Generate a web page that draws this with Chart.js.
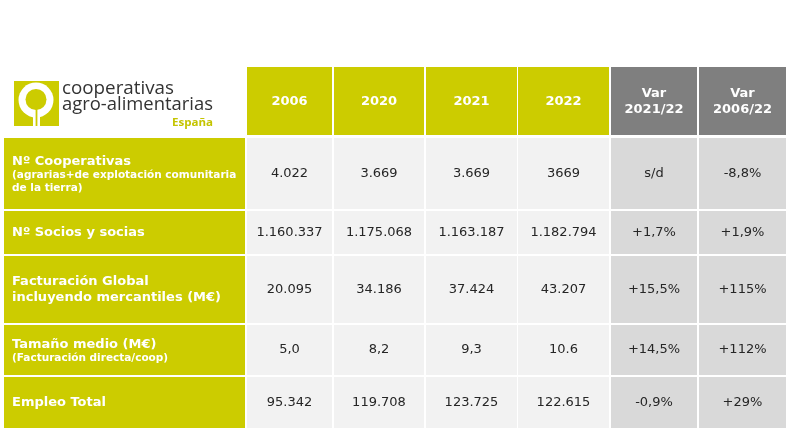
<!DOCTYPE html>
<html>
<head>
<meta charset="utf-8">
<script src="https://cdn.jsdelivr.net/npm/chart.js@4.4.0/dist/chart.umd.min.js"></script>
<style>
  html, body { margin: 0; padding: 0; background: #fff; }
  #wrap { width: 792px; height: 446px; }
</style>
</head>
<body>
<div id="wrap"><canvas id="tabla"></canvas></div>
<script>
// datos
const years = ['2006', '2020', '2021', '2022'];
const varHeads = ['Var\n2021/22', 'Var\n2006/22'];
const rowLabels = ['Nº Cooperativas', 'Nº Socios y socias', 'Facturación Global\nincluyendo mercantiles (M€)', 'Tamaño medio (M€)', 'Empleo Total'];
const rowNotes = ['(agrarias+de explotación comunitaria\nde la tierra)', '', '', '(Facturación directa/coop)', ''];
const val2006 = ['4.022', '1.160.337', '20.095', '5,0', '95.342'];
const val2020 = ['3.669', '1.175.068', '34.186', '8,2', '119.708'];
const val2021 = ['3.669', '1.163.187', '37.424', '9,3', '123.725'];
const val2022 = ['3669', '1.182.794', '43.207', '10.6', '122.615'];
const var2122 = ['s/d', '+1,7%', '+15,5%', '+14,5%', '-0,9%'];
const var0622 = ['-8,8%', '+1,9%', '+115%', '+112%', '+29%'];

// layout de la tabla (px)
const colL = [4, 247, 334, 426, 518, 611, 699];
const colR = [245, 332, 424, 517, 609, 697, 786];
const rowT = [67, 138, 211, 256, 325, 377];
const rowB = [135, 209, 254, 323, 375, 428];

const VERDE = '#cccc00';
const columns = [null, val2006, val2020, val2021, val2022, var2122, var0622];

function cellColor(r, c) {
    if (r === 0) {
        if (c === 0) return 'rgba(0,0,0,0)';
        return c >= 5 ? '#7f7f7f' : VERDE;
    }
    if (c === 0) return VERDE;
    return c >= 5 ? '#d9d9d9' : '#f2f2f2';
}

function cellText(r, c) {
    if (r === 0) {
        if (c === 0) return '';
        return c >= 5 ? varHeads[c - 5] : years[c - 1];
    }
    if (c === 0) return '';
    return columns[c][r - 1];
}

const datasets = rowT.map((top, r) => ({
    data: colL.map((l, c) => ({ x: [l, colR[c]], y: (top + rowB[r]) / 2 })),
    backgroundColor: colL.map((l, c) => cellColor(r, c)),
    barThickness: rowB[r] - top,
    grouped: false,
    borderWidth: 0,
    inflateAmount: 0
}));

function fitText(ctx, text, x, y, width, font) {
    ctx.font = font;
    const w = ctx.measureText(text).width;
    ctx.save();
    ctx.translate(x, y);
    ctx.scale(width / w, 1);
    ctx.fillText(text, 0, 0);
    ctx.restore();
}

function drawLogo(ctx) {
    ctx.fillStyle = VERDE;
    ctx.fillRect(14, 81, 45, 45);
    ctx.fillStyle = '#fff';
    ctx.beginPath();
    ctx.arc(36, 100, 17.5, 0, Math.PI * 2);
    ctx.fill();
    ctx.fillRect(33, 110, 7, 16);
    ctx.fillStyle = VERDE;
    ctx.beginPath();
    ctx.arc(36, 99.5, 10.5, 0, Math.PI * 2);
    ctx.fill();
    ctx.fillRect(35.6, 108, 1.8, 18);

    ctx.textAlign = 'left';
    ctx.textBaseline = 'alphabetic';
    ctx.fillStyle = '#333333';
    fitText(ctx, 'cooperativas', 62, 94, 112, '19px "Open Sans"');
    fitText(ctx, 'agro-alimentarias', 62, 110, 151, '19px "Open Sans"');
    ctx.fillStyle = '#c4c400';
    fitText(ctx, 'España', 172, 126, 41, 'bold 11px "Open Sans"');
}

const textosTabla = {
    id: 'textosTabla',
    afterDatasetsDraw(chart) {
        const ctx = chart.ctx;
        ctx.save();
        drawLogo(ctx);
        chart.data.datasets.forEach((ds, r) => {
            const meta = chart.getDatasetMeta(r);
            meta.data.forEach((el, c) => {
                const p = el.getProps(['x', 'y', 'base', 'height'], true);
                const left = Math.min(p.x, p.base);
                const cx = (p.x + p.base) / 2;
                ctx.textBaseline = 'middle';
                if (r > 0 && c === 0) {
                    // etiqueta de fila
                    const main = rowLabels[r - 1].split('\n');
                    const notes = rowNotes[r - 1] ? rowNotes[r - 1].split('\n') : [];
                    const block = main.length * 16 + notes.length * 12.5;
                    let y = p.y - block / 2;
                    ctx.fillStyle = '#fff';
                    ctx.textAlign = 'left';
                    ctx.font = 'bold 13px "DejaVu Sans"';
                    main.forEach(t => { ctx.fillText(t, left + 8, y + 8.5); y += 16; });
                    ctx.font = 'bold 10.5px "DejaVu Sans"';
                    notes.forEach(t => { ctx.fillText(t, left + 8, y + 6.5); y += 12.5; });
                    return;
                }
                const txt = cellText(r, c);
                if (!txt) return;
                ctx.textAlign = 'center';
                if (r === 0) {
                    ctx.fillStyle = '#fff';
                    ctx.font = 'bold 13px "DejaVu Sans"';
                    const lines = txt.split('\n');
                    lines.forEach((t, i) => ctx.fillText(t, cx, p.y + 1 + (i - (lines.length - 1) / 2) * 16));
                } else {
                    ctx.fillStyle = '#262626';
                    ctx.font = '13px "DejaVu Sans"';
                    ctx.fillText(txt, cx, p.y);
                }
            });
        });
        ctx.restore();
    }
};

new Chart(document.getElementById('tabla'), {
    type: 'bar',
    data: { labels: [], datasets: datasets },
    options: {
        indexAxis: 'y',
        responsive: true,
        maintainAspectRatio: false,
        animation: false,
        events: [],
        layout: { padding: 0 },
        plugins: { legend: { display: false }, tooltip: { enabled: false } },
        scales: {
            x: { type: 'linear', min: 0, max: 792, offset: false, display: false },
            y: { type: 'linear', min: 0, max: 446, reverse: true, offset: false, display: false }
        }
    },
    plugins: [textosTabla]
});
</script>
</body>
</html>
